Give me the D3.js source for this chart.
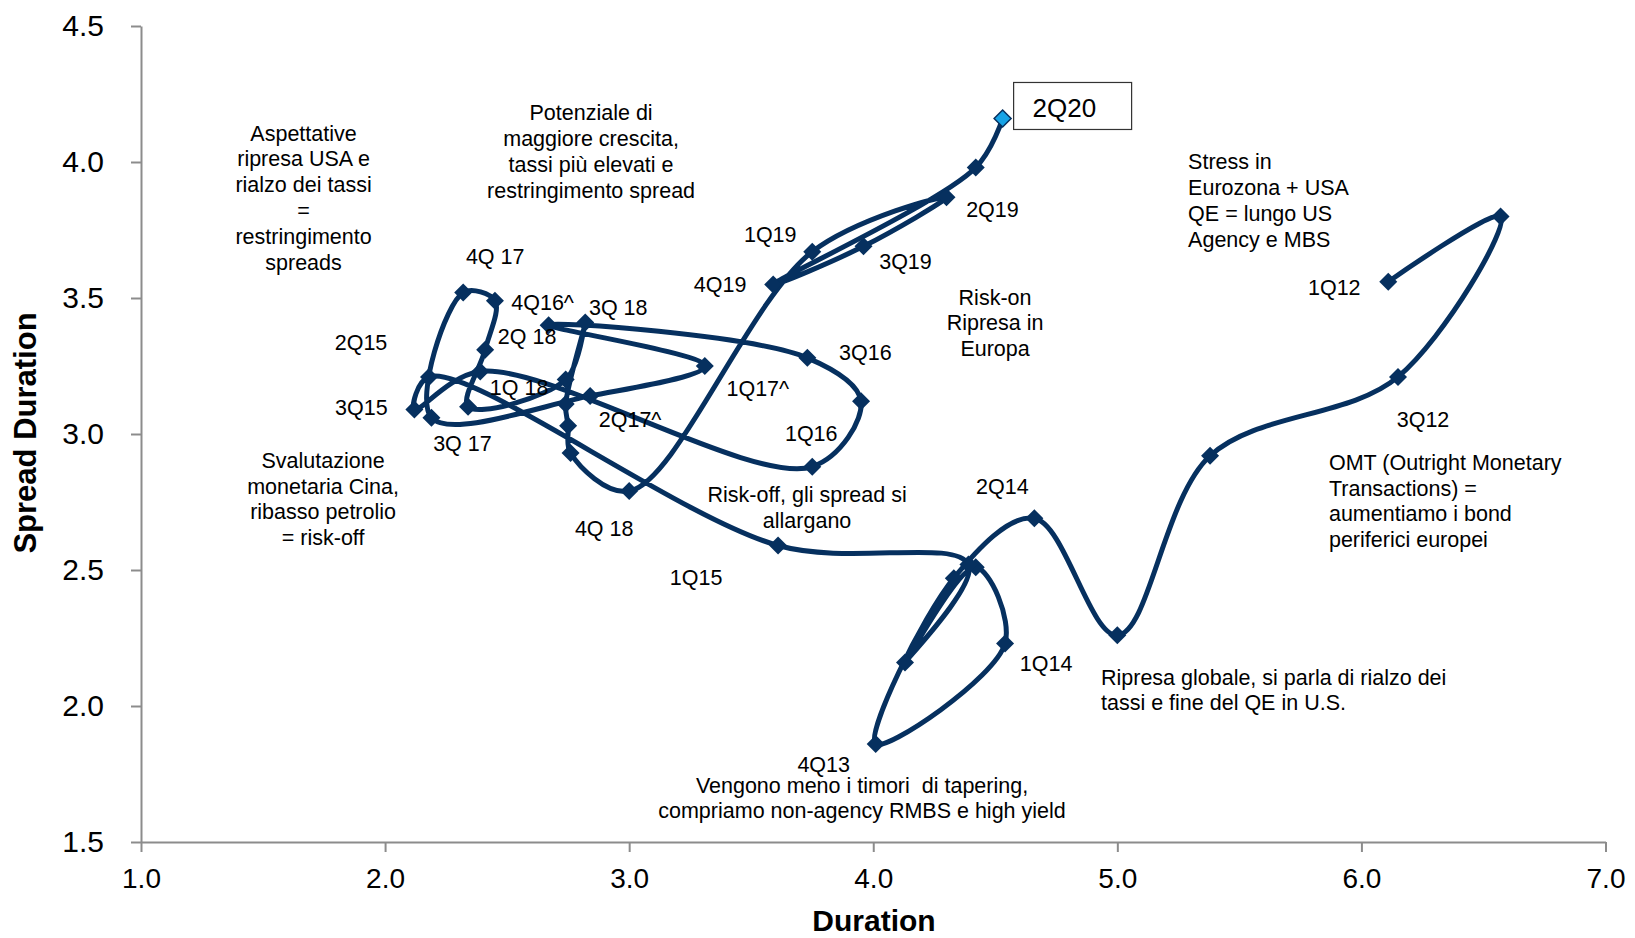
<!DOCTYPE html>
<html>
<head>
<meta charset="utf-8">
<script src="https://cdn.jsdelivr.net/npm/d3@7"></script>
<style>
  html, body { margin: 0; padding: 0; background: #fff; }
  svg { display: block; }
  text { font-family: "Liberation Sans", Arial, Helvetica, sans-serif; fill: #000; white-space: pre; }
</style>
</head>
<body>
<svg id="chart" width="1635" height="938"></svg>
<script>
// Portfolio path: interest-rate duration (x) against spread duration (y), 1Q12 -> 2Q20
const duration = [6.11, 6.57, 6.15, 5.38, 5.00, 4.66, 4.33, 4.01, 4.54, 4.42, 4.13, 4.39, 3.61,
  2.18, 2.12, 2.39, 3.75, 3.95, 3.73, 2.67, 3.31, 2.84, 2.19, 2.32, 2.45, 2.41, 2.34, 2.74,
  2.82, 2.74, 2.75, 2.76, 3.00, 3.75, 4.30, 3.96, 3.59, 4.42, 4.53];
const spreadDuration = [3.56, 3.80, 3.21, 2.92, 2.26, 2.69, 2.47, 1.86, 2.23, 2.51, 2.16, 2.52, 2.59,
  3.21, 3.09, 3.23, 2.88, 3.12, 3.28, 3.40, 3.25, 3.14, 3.06, 3.52, 3.49, 3.31, 3.10, 3.20,
  3.41, 3.11, 3.03, 2.93, 2.79, 3.67, 3.87, 3.69, 3.55, 3.98, 4.16];
// Quarter tags shown next to the points ("" = no tag)
const pointTags = ["1Q12", "", "3Q12", "", "", "2Q14", "", "4Q13", "1Q14", "", "", "", "1Q15",
  "2Q15", "3Q15", "", "1Q16", "", "3Q16", "4Q16^", "1Q17^", "2Q17^", "3Q 17", "4Q 17", "", "2Q 18",
  "1Q 18", "", "3Q 18", "", "", "", "4Q 18", "1Q19", "2Q19", "3Q19", "4Q19", "", "2Q20"];

const xTicks = [1, 2, 3, 4, 5, 6, 7];
const yTicks = [1.5, 2.0, 2.5, 3.0, 3.5, 4.0, 4.5];
const xTitle = "Duration";
const yTitle = "Spread Duration";

// Commentary blocks: x, y of the first line (data units), alignment, lines
const noteAnchorX = [1.666, 2.844, 5.290, 4.499, 5.867, 1.746, 3.729, 4.933, 3.954];
const noteAnchorY = [4.107, 4.182, 4.001, 3.504, 2.897, 2.904, 2.779, 2.107, 1.710];
const noteAlign = ["middle", "middle", "start", "middle", "start", "middle", "middle", "start", "middle"];
const noteLines = [
  ["Aspettative", "ripresa USA e", "rialzo dei tassi", "=", "restringimento", "spreads"],
  ["Potenziale di", "maggiore crescita,", "tassi più elevati e", "restringimento spread"],
  ["Stress in", "Eurozona + USA", "QE = lungo US", "Agency e MBS"],
  ["Risk-on", "Ripresa in", "Europa"],
  ["OMT (Outright Monetary", "Transactions) =", "aumentiamo i bond", "periferici europei"],
  ["Svalutazione", "monetaria Cina,", "ribasso petrolio", "= risk-off"],
  ["Risk-off, gli spread si", "allargano"],
  ["Ripresa globale, si parla di rialzo dei", "tassi e fine del QE in U.S."],
  ["Vengono meno i timori  di tapering,", "compriamo non-agency RMBS e high yield"]
];

// ---- layout ----
const navy = "#06305f";
const axisGrey = "#8c8c8c";
const labelFont = 21.5;
const lineStep = 25.8;
// pixel offsets of each quarter tag from its point (text centre)
const tagOffset = {
  0: [-54, 6], 2: [25, 42], 5: [-32, -32], 7: [-52, 20], 8: [41, 20], 12: [-82, 32],
  13: [-68, -35], 14: [-53, -2], 16: [-1, -33], 18: [58, -6], 19: [-6, -23], 20: [53, 22],
  21: [40, 23], 22: [31, 26], 23: [32, -36], 25: [42, -13], 26: [51, -20], 28: [33, -15],
  32: [-25, 37], 33: [-42, -18], 34: [46, 12], 35: [42, 15], 36: [-53, 0]
};

const svg = d3.select("#chart");
const x = d3.scaleLinear().domain([xTicks[0], xTicks[xTicks.length - 1]]).range([141, 1605.5]);
const y = d3.scaleLinear().domain([yTicks[0], yTicks[yTicks.length - 1]]).range([842, 26]);

// axes
const yAxis = svg.append("g")
  .attr("transform", `translate(${x.range()[0]},0)`)
  .call(d3.axisLeft(y).tickValues(yTicks).tickFormat(d3.format(".1f")).tickSize(10).tickSizeOuter(0).tickPadding(27));
const xAxis = svg.append("g")
  .attr("transform", `translate(0,${y.range()[0]})`)
  .call(d3.axisBottom(x).tickValues(xTicks).tickFormat(d3.format(".1f")).tickSize(10).tickSizeOuter(0).tickPadding(16));
[yAxis, xAxis].forEach(g => {
  g.select(".domain").attr("stroke", axisGrey).attr("stroke-width", 2);
  g.selectAll(".tick line").attr("stroke", axisGrey).attr("stroke-width", 2);
  g.selectAll(".tick text").attr("fill", "#000")
    .style("font-family", '"Liberation Sans", Arial, sans-serif');
});
yAxis.selectAll(".tick text").style("font-size", "30px");
xAxis.selectAll(".tick text").style("font-size", "28px");

// axis titles
svg.append("text")
  .attr("transform", "translate(36,433) rotate(-90)")
  .attr("text-anchor", "middle")
  .style("font-size", "31px").style("font-weight", "bold")
  .text(yTitle);
svg.append("text")
  .attr("x", 874).attr("y", 931)
  .attr("text-anchor", "middle")
  .style("font-size", "30px").style("font-weight", "bold")
  .text(xTitle);

// commentary
noteLines.forEach((lines, i) => {
  const t = svg.append("text")
    .attr("text-anchor", noteAlign[i])
    .style("font-size", labelFont + "px");
  lines.forEach((ln, k) => {
    t.append("tspan")
      .attr("x", x(noteAnchorX[i]))
      .attr("y", y(noteAnchorY[i]) + k * lineStep + 0.36 * labelFont)
      .text(ln);
  });
});

// smoothed path through the quarters
const pts = duration.map((d, i) => ({ x: d, y: spreadDuration[i], tag: pointTags[i], i }));
const line = d3.line().x(d => x(d.x)).y(d => y(d.y)).curve(d3.curveCatmullRom.alpha(0.5));
svg.append("path")
  .datum(pts)
  .attr("d", line)
  .attr("fill", "none")
  .attr("stroke", navy)
  .attr("stroke-width", 5)
  .attr("stroke-linejoin", "round")
  .attr("stroke-linecap", "round");

// diamond markers
const diamond = r => `M0,${-r}L${r},0L0,${r}L${-r},0Z`;
const last = pts.length - 1;
svg.append("g").selectAll("path")
  .data(pts.slice(0, last))
  .join("path")
  .attr("transform", d => `translate(${x(d.x)},${y(d.y)})`)
  .attr("d", diamond(9))
  .attr("fill", navy);
svg.append("path")
  .attr("transform", `translate(${x(pts[last].x)},${y(pts[last].y)})`)
  .attr("d", diamond(8.5))
  .attr("fill", "#17a3e6")
  .attr("stroke", navy)
  .attr("stroke-width", 1.5);

// quarter tags
svg.append("g").selectAll("text")
  .data(pts.filter(d => d.tag && tagOffset[d.i]))
  .join("text")
  .attr("x", d => x(d.x) + tagOffset[d.i][0])
  .attr("y", d => y(d.y) + tagOffset[d.i][1] + 0.36 * labelFont)
  .attr("text-anchor", "middle")
  .style("font-size", labelFont + "px")
  .text(d => d.tag);

// boxed tag for the latest quarter
const lx = x(pts[last].x), ly = y(pts[last].y);
svg.append("rect")
  .attr("x", lx + 11).attr("y", ly - 36)
  .attr("width", 118).attr("height", 47)
  .attr("fill", "#fff").attr("stroke", "#333").attr("stroke-width", 1.2);
svg.append("text")
  .attr("x", lx + 30).attr("y", ly - 1)
  .style("font-size", "26px")
  .text(pts[last].tag);
</script>
</body>
</html>
